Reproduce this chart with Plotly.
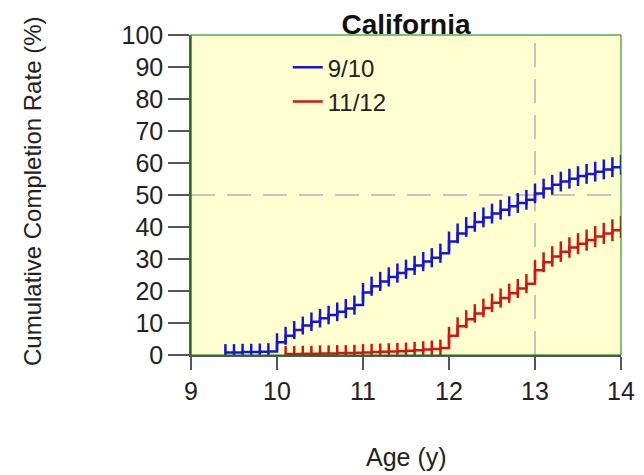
import plotly.graph_objects as go

# ---------------- data ----------------
series_names = ["9/10", "11/12"]

age_910 = [9.4, 9.5, 9.6, 9.7, 9.8, 9.9,
           10.0, 10.1, 10.2, 10.3, 10.4, 10.5, 10.6, 10.7, 10.8, 10.9,
           11.0, 11.1, 11.2, 11.3, 11.4, 11.5, 11.6, 11.7, 11.8, 11.9,
           12.0, 12.1, 12.2, 12.3, 12.4, 12.5, 12.6, 12.7, 12.8, 12.9,
           13.0, 13.1, 13.2, 13.3, 13.4, 13.5, 13.6, 13.7, 13.8, 13.9, 14.0]
rate_910 = [0.8, 0.8, 0.9, 0.9, 1.0, 1.1,
            4.0, 6.0, 7.8, 9.2, 10.4, 11.5, 12.5, 13.5, 14.5, 15.6,
            19.5, 21.5, 23.0, 24.4, 25.6, 26.8, 28.0, 29.2, 30.4, 31.8,
            35.5, 38.0, 40.0, 41.6, 43.0, 44.2, 45.4, 46.5, 47.5, 48.5,
            50.5, 52.0, 53.2, 54.2, 55.1, 55.9, 56.6, 57.3, 58.0, 58.7, 59.4]
err_910 = [2.6, 2.6, 2.6, 2.6, 2.6, 2.6,
           2.8, 2.8, 2.8, 2.8, 2.9, 2.9, 2.9, 2.9, 3.0, 3.0,
           3.0, 3.0, 3.0, 3.0, 3.0, 3.0, 3.0, 3.0, 3.0, 3.0,
           3.1, 3.1, 3.1, 3.1, 3.1, 3.1, 3.1, 3.1, 3.1, 3.1,
           3.1, 3.1, 3.1, 3.1, 3.1, 3.1, 3.1, 3.1, 3.1, 3.1, 3.1]

age_1112 = [10.1, 10.2, 10.3, 10.4, 10.5, 10.6, 10.7, 10.8, 10.9,
            11.0, 11.1, 11.2, 11.3, 11.4, 11.5, 11.6, 11.7, 11.8, 11.9,
            12.0, 12.1, 12.2, 12.3, 12.4, 12.5, 12.6, 12.7, 12.8, 12.9,
            13.0, 13.1, 13.2, 13.3, 13.4, 13.5, 13.6, 13.7, 13.8, 13.9, 14.0]
rate_1112 = [0.3, 0.3, 0.4, 0.4, 0.5, 0.5, 0.6, 0.6, 0.7,
             0.8, 0.9, 1.0, 1.1, 1.2, 1.3, 1.5, 1.7, 1.9, 2.2,
             6.0, 9.0, 11.2, 13.0, 14.7, 16.3, 17.8, 19.3, 20.8, 22.3,
             26.5, 29.0, 30.8, 32.3, 33.6, 34.8, 35.9, 37.0, 38.0, 39.0, 40.0]
err_1112 = [2.5, 2.5, 2.5, 2.5, 2.5, 2.5, 2.5, 2.5, 2.5,
            2.6, 2.6, 2.6, 2.6, 2.6, 2.6, 2.6, 2.6, 2.6, 2.6,
            2.8, 2.8, 2.8, 2.9, 2.9, 2.9, 3.0, 3.0, 3.0, 3.0,
            3.1, 3.1, 3.2, 3.2, 3.2, 3.3, 3.3, 3.3, 3.3, 3.4, 3.4]

x_ticks = [9, 10, 11, 12, 13, 14]
y_ticks = [0, 10, 20, 30, 40, 50, 60, 70, 80, 90, 100]
ref_rate = 50
ref_age = 13

title_text = "California"
x_title = "Age (y)"
y_title = "Cumulative Completion Rate (%)"

# ---------------- figure ----------------
BLUE = "#1414E0"
RED = "#D41414"
FONT = "Liberation Sans, Arial, sans-serif"
AXC = "#555555"
TXT = "#222222"

fig = go.Figure()

dash_line = dict(color="#C4C4C4", width=2, dash="24px,12px")
fig.add_trace(go.Scatter(x=[x_ticks[0], x_ticks[-1]], y=[ref_rate, ref_rate], mode="lines",
                         line=dash_line, showlegend=False, hoverinfo="skip"))
fig.add_trace(go.Scatter(x=[ref_age, ref_age], y=[y_ticks[0], y_ticks[-1]], mode="lines",
                         line=dash_line, showlegend=False, hoverinfo="skip"))


def add_series(x, y, e, name, color):
    lower = [min(v, d) for v, d in zip(y, e)]
    fig.add_trace(go.Scatter(
        x=x, y=y, name=name, mode="lines",
        line=dict(color=color, width=2.5, shape="hv"),
        error_y=dict(type="data", array=e, arrayminus=lower, symmetric=False,
                     color=color, thickness=2.5, width=0),
        cliponaxis=False, showlegend=True,
    ))


add_series(age_910, rate_910, err_910, series_names[0], BLUE)
add_series(age_1112, rate_1112, err_1112, series_names[1], RED)

fig.add_annotation(xref="paper", yref="paper", x=0.502, y=-0.319, text=x_title,
                   showarrow=False, xanchor="center", yanchor="middle",
                   font=dict(family=FONT, size=25, color=TXT))
fig.add_annotation(xref="paper", yref="paper", x=-0.367, y=0.51, text=y_title,
                   textangle=-90, showarrow=False, xanchor="center", yanchor="middle",
                   font=dict(family=FONT, size=24, color=TXT))

# diagnostic markers
fig.add_shape(type="rect", xref="paper", yref="paper", x0=0, x1=1, y0=0, y1=1,
              line=dict(color="green", width=1))
fig.add_shape(type="line", xref="x", yref="paper", x0=9, x1=9, y0=0, y1=1,
              line=dict(color="magenta", width=1))

fig.update_layout(
    width=636, height=467, autosize=False,
    margin=dict(l=183, r=23, t=27, b=120),
    plot_bgcolor="#FFFFD0", paper_bgcolor="white",
    title=dict(text="<b>" + title_text + "</b>", x=0.5, xref="paper", xanchor="center",
               y=0.9657, yref="container", yanchor="middle",
               font=dict(family=FONT, size=28, color="#111111")),
    legend=dict(x=0.225, y=0.968, xanchor="left", yanchor="top",
                bgcolor="rgba(0,0,0,0)", borderwidth=0, tracegroupgap=0,
                font=dict(family=FONT, size=24, color=TXT)),
)

fig.update_xaxes(
    range=[x_ticks[0], x_ticks[-1]], tickvals=x_ticks, ticktext=[str(t) for t in x_ticks],
    showgrid=False, zeroline=False, showline=True, linecolor=AXC, linewidth=1.5,
    ticks="outside", ticklen=13, tickwidth=1.5, tickcolor=AXC, automargin=False,
    tickfont=dict(family=FONT, size=25, color=TXT),
)
fig.update_yaxes(
    range=[y_ticks[0], y_ticks[-1]], tickvals=y_ticks, ticktext=[str(t) for t in y_ticks],
    showgrid=False, zeroline=False, showline=True, linecolor=AXC, linewidth=1.5,
    ticks="outside", ticklen=21, tickwidth=1.5, tickcolor=AXC, automargin=False,
    tickfont=dict(family=FONT, size=25, color=TXT),
)

fig.write_html("out.html")
